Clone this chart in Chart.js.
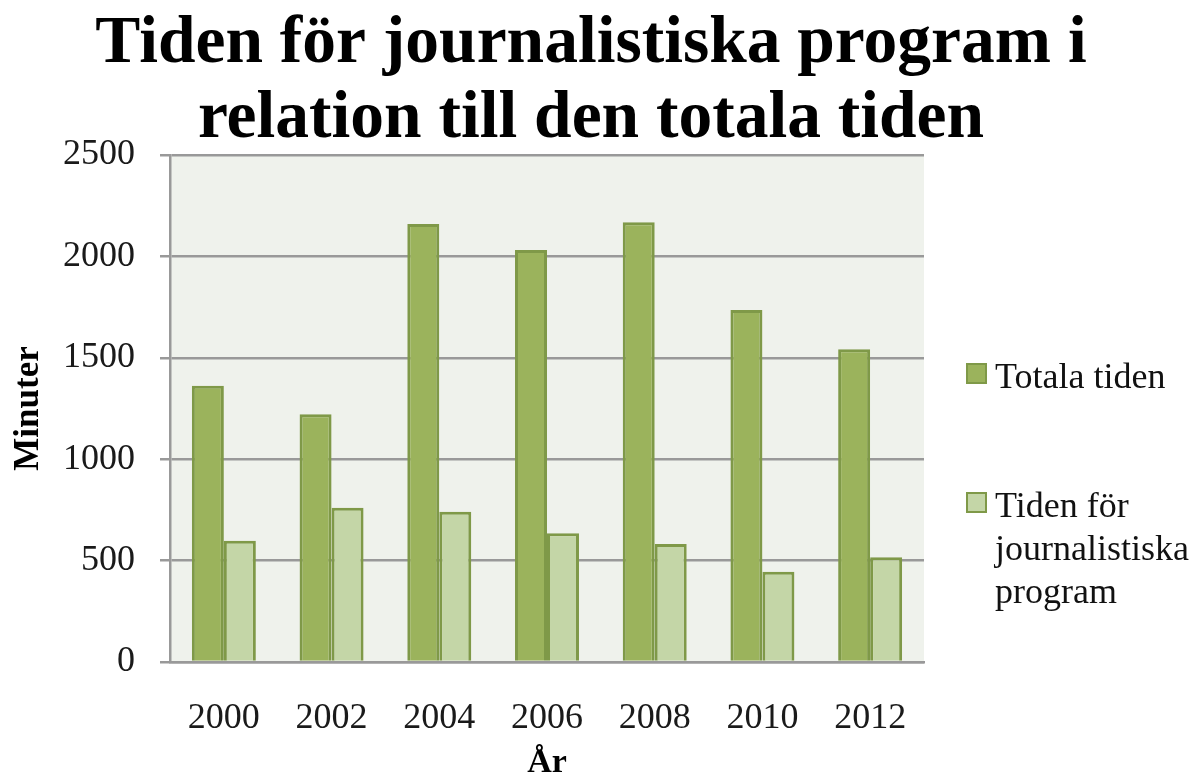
<!DOCTYPE html>
<html>
<head>
<meta charset="utf-8">
<title>Tiden för journalistiska program</title>
<script src="https://cdn.jsdelivr.net/npm/chart.js@4.4.1/dist/chart.umd.min.js"></script>
<style>
  html, body { margin: 0; padding: 0; background: #fff; }
  .wrap { position: relative; width: 1203px; height: 778px; }
</style>
</head>
<body>
<div class="wrap">
  <canvas id="chart"></canvas>
</div>
<script>
// data
const years = ['2000', '2002', '2004', '2006', '2008', '2010', '2012'];
const totalaTiden = [1362, 1221, 2160, 2032, 2168, 1736, 1542];
const journalistiska = [598, 761, 741, 635, 582, 445, 516];
const seriesNames = ['Totala tiden', ['Tiden för', 'journalistiska', 'program']];
const yTicks = [0, 500, 1000, 1500, 2000, 2500];

const serif = "'Liberation Serif', 'Times New Roman', serif";
const gridGrey = '#999999';

// plot background + white canvas
const plotBackground = {
    id: 'plotBackground',
    beforeDraw(chart) {
        const { ctx, chartArea: a } = chart;
        ctx.save();
        ctx.fillStyle = '#fff';
        ctx.fillRect(0, 0, chart.width, chart.height);
        ctx.fillStyle = '#eff2ec';
        ctx.fillRect(a.left, a.top, a.right - a.left, a.bottom - a.top);
        ctx.restore();
    }
};

// legend on the right, multi-line labels
const sideLegend = {
    id: 'sideLegend',
    afterDraw(chart) {
        const ctx = chart.ctx;
        const x = chart.chartArea.right + 42;
        const tops = [363, 492];
        ctx.save();
        ctx.font = '36px ' + serif;
        ctx.textBaseline = 'alphabetic';
        chart.data.datasets.forEach((ds, i) => {
            ctx.fillStyle = ds.backgroundColor;
            ctx.fillRect(x, tops[i], 21, 21);
            ctx.strokeStyle = ds.borderColor;
            ctx.lineWidth = 2;
            ctx.strokeRect(x + 1, tops[i] + 1, 19, 19);
            ctx.fillStyle = '#111';
            const lines = [].concat(ds.label);
            lines.forEach((t, j) => {
                ctx.fillText(t, x + 29, tops[i] + 25 + j * 43);
            });
        });
        ctx.restore();
    }
};

new Chart(document.getElementById('chart').getContext('2d'), {
    type: 'bar',
    data: {
        labels: years,
        datasets: [
            {
                label: seriesNames[0],
                data: totalaTiden,
                backgroundColor: '#9bb35c',
                borderColor: '#7f9948',
                borderWidth: 3,
                yAxisID: 'y'
            },
            {
                label: seriesNames[1],
                data: journalistiska,
                backgroundColor: '#c4d6a7',
                borderColor: '#7f9948',
                borderWidth: 3,
                yAxisID: 'y'
            }
        ]
    },
    options: {
        responsive: true,
        maintainAspectRatio: false,
        animation: false,
        datasets: {
            bar: { categoryPercentage: 0.594, barPercentage: 1.0 }
        },
        layout: { padding: { left: 0, right: 21, top: 0, bottom: 0 } },
        plugins: {
            legend: { display: false },
            tooltip: { enabled: false },
            title: {
                display: true,
                text: ['Tiden för journalistiska program i', 'relation till den totala tiden'],
                color: '#000',
                font: { family: serif, size: 67.5, weight: 'bold', lineHeight: 1.111 },
                padding: { top: 7, bottom: -2 }
            }
        },
        scales: {
            x: {
                grid: { display: false },
                border: { display: true, color: gridGrey, width: 2.5 },
                ticks: {
                    color: '#1a1a1a',
                    font: { family: serif, size: 36 },
                    padding: 27,
                    maxRotation: 0
                },
                title: {
                    display: true,
                    text: 'År',
                    color: '#000',
                    font: { family: serif, size: 34, weight: 'bold', lineHeight: 0.88 },
                    padding: 0
                },
                afterFit(scale) { scale.height = 116; }
            },
            y: {
                min: 0,
                max: 2500,
                afterBuildTicks(scale) { scale.ticks = yTicks.map(v => ({ value: v })); },
                grid: { color: gridGrey, lineWidth: 2.5, drawTicks: true, tickLength: 10 },
                border: { display: true, color: gridGrey, width: 2.5 },
                ticks: {
                    color: '#1a1a1a',
                    font: { family: serif, size: 36 },
                    padding: 25,
                    callback: v => String(v)
                },
                title: {
                    display: true,
                    text: 'Minuter',
                    color: '#000',
                    font: { family: serif, size: 35, weight: 'bold', lineHeight: 1.2 },
                    padding: { top: 8, bottom: 0 }
                },
                afterFit(scale) { scale.width = 170; }
            },
            // empty right axis that only keeps room for the legend
            side: {
                position: 'right',
                display: true,
                grid: { display: false },
                border: { display: false },
                ticks: { display: false },
                afterFit(scale) { scale.width = 258; }
            }
        }
    },
    plugins: [plotBackground, sideLegend]
});
</script>
</body>
</html>
